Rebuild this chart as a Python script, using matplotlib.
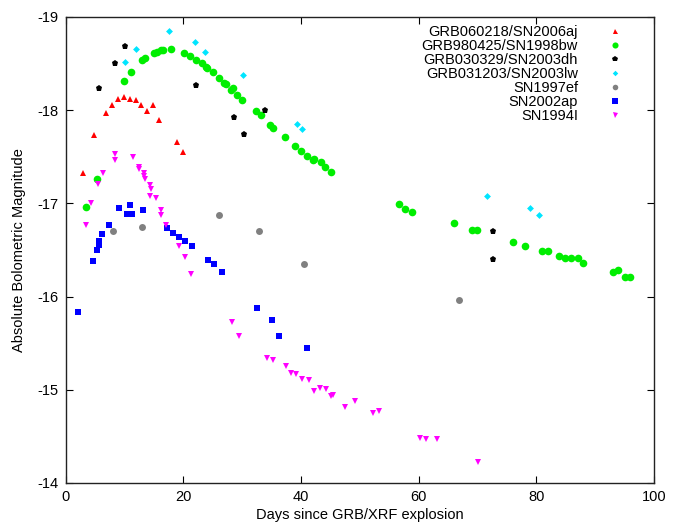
import numpy as np
import matplotlib
matplotlib.use("Agg")
import matplotlib.pyplot as plt

# Data: (day, absolute bolometric magnitude)
sn2006aj_t = [2.9, 4.9, 6.9, 7.9, 8.9, 9.9, 10.9, 11.9, 12.9, 13.9, 14.9, 15.9, 18.9, 19.9]
sn2006aj_m = [-17.32, -17.73, -17.97, -18.05, -18.12, -18.14, -18.12, -18.11, -18.05,
              -17.99, -18.05, -17.89, -17.66, -17.55]

sn1998bw_t = [3.4, 5.4, 10.0, 11.1, 13.0, 13.5, 15.1, 15.6, 16.3, 16.6, 17.9, 20.1, 21.1,
              22.1, 23.1, 23.9, 24.1, 25.0, 26.0, 26.9, 27.2, 28.1, 28.4, 29.1, 30.0,
              32.3, 33.2, 34.7, 35.2, 37.3, 39.0, 40.0, 41.0, 42.0, 42.3, 43.4, 44.1,
              45.1, 56.7, 57.7, 58.8, 66.0, 69.0, 70.0, 76.0, 78.0, 81.0, 81.9, 83.9,
              84.9, 85.9, 87.0, 87.9, 93.0, 93.9, 95.0, 95.9]
sn1998bw_m = [-16.96, -17.26, -18.31, -18.41, -18.54, -18.56, -18.61, -18.62, -18.64,
              -18.64, -18.66, -18.61, -18.58, -18.54, -18.51, -18.46, -18.45, -18.41,
              -18.34, -18.29, -18.28, -18.22, -18.24, -18.16, -18.11, -17.99, -17.95,
              -17.84, -17.81, -17.71, -17.61, -17.56, -17.51, -17.46, -17.48, -17.44,
              -17.39, -17.34, -16.99, -16.94, -16.91, -16.79, -16.71, -16.71, -16.59,
              -16.54, -16.49, -16.49, -16.44, -16.41, -16.41, -16.41, -16.36, -16.26,
              -16.29, -16.21, -16.21]

sn2003dh_t = [5.7, 8.4, 10.1, 22.1, 28.6, 30.4, 33.9, 72.6, 72.6]
sn2003dh_m = [-18.24, -18.50, -18.69, -18.27, -17.93, -17.74, -18.00, -16.70, -16.40]

sn2003lw_t = [10.1, 12.0, 17.6, 22.0, 23.7, 30.1, 39.3, 40.1, 71.6, 78.9, 80.4]
sn2003lw_m = [-18.52, -18.65, -18.85, -18.73, -18.62, -18.38, -17.85, -17.80,
              -17.08, -16.95, -16.87]

sn1997ef_t = [8.0, 13.0, 26.0, 32.9, 40.6, 66.9]
sn1997ef_m = [-16.70, -16.75, -16.87, -16.70, -16.35, -15.96]

sn2002ap_t = [2.1, 4.7, 5.3, 5.7, 5.6, 6.2, 7.3, 9.0, 10.4, 11.3, 11.0, 13.1, 17.3, 18.3,
              19.3, 20.3, 21.4, 24.2, 25.2, 26.6, 32.5, 35.1, 36.2, 41.1]
sn2002ap_m = [-15.83, -16.38, -16.50, -16.55, -16.60, -16.67, -16.77, -16.95, -16.89,
              -16.89, -16.98, -16.93, -16.73, -16.68, -16.64, -16.60, -16.54, -16.39,
              -16.35, -16.26, -15.88, -15.75, -15.58, -15.45]

sn1994i_t = [3.4, 4.3, 5.5, 6.4, 8.4, 8.4, 11.5, 12.4, 12.5, 13.4, 13.4, 13.5, 14.4, 14.5,
             14.4, 15.4, 16.3, 16.3, 17.1, 19.3, 20.3, 21.3, 28.3, 29.4, 34.3, 35.3,
             37.4, 38.3, 39.2, 40.2, 41.3, 42.3, 43.2, 44.3, 45.1, 45.4, 47.4, 49.1,
             52.3, 53.3, 60.3, 61.3, 63.1, 70.1]
sn1994i_m = [-16.77, -17.00, -17.21, -17.32, -17.53, -17.47, -17.50, -17.39, -17.37,
             -17.32, -17.29, -17.26, -17.20, -17.15, -17.08, -17.06, -16.93, -16.87,
             -16.77, -16.54, -16.42, -16.24, -15.73, -15.58, -15.34, -15.32, -15.26,
             -15.18, -15.17, -15.12, -15.10, -14.99, -15.02, -15.01, -14.93, -14.94,
             -14.82, -14.88, -14.75, -14.77, -14.48, -14.47, -14.47, -14.23]

x_label = "Days since GRB/XRF explosion"
y_label = "Absolute Bolometric Magnitude"

# Format
plt.rcParams["font.family"] = ["Liberation Sans", "DejaVu Sans"]
plt.rcParams["font.size"] = 10.5
plt.rcParams["axes.unicode_minus"] = False
plt.rcParams["xtick.direction"] = "in"
plt.rcParams["ytick.direction"] = "in"
plt.rc("xtick.major", size=5, width=0.8)
plt.rc("ytick.major", size=5, width=0.8)
plt.rc("axes", linewidth=1.0, edgecolor="#222222")

fig = plt.figure(figsize=(6.76, 5.27), dpi=100)
ax = fig.add_axes([0.097, 0.0835, 0.8705, 0.8845])

series = [
    (sn2006aj_t, sn2006aj_m, "^", "#ff0000", 4.5, "GRB060218/SN2006aj"),
    (sn1998bw_t, sn1998bw_m, "o", "#00ee00", 5.5, "GRB980425/SN1998bw"),
    (sn2003dh_t, sn2003dh_m, "p", "#000000", 5, "GRB030329/SN2003dh"),
    (sn2003lw_t, sn2003lw_m, "D", "#00e5ff", 3.5, "GRB031203/SN2003lw"),
    (sn1997ef_t, sn1997ef_m, "o", "#808080", 5, "SN1997ef"),
    (sn2002ap_t, sn2002ap_m, "s", "#0000ff", 5, "SN2002ap"),
    (sn1994i_t, sn1994i_m, "v", "#ff00ff", 4.5, "SN1994I"),
]
for t, m, mk, col, ms, lab in series:
    ax.plot(t, m, mk, color=col, markersize=ms, markeredgewidth=0, label=lab)

ax.set_xlim(0, 100)
ax.set_ylim(-14, -19)
ax.set_xticks(np.arange(0, 101, 20))
ax.set_yticks(np.arange(-19, -13, 1))
ax.tick_params(top=True, right=True, pad=5)
ax.set_xlabel(x_label, labelpad=3)
ax.set_ylabel(y_label, labelpad=8)

leg = ax.legend(loc="upper right", bbox_to_anchor=(0.975, 1.005), frameon=False,
                markerfirst=False, handletextpad=1.5, labelspacing=0.0,
                markerscale=0.8, borderpad=0.2)

plt.savefig("out.png", dpi=100)
